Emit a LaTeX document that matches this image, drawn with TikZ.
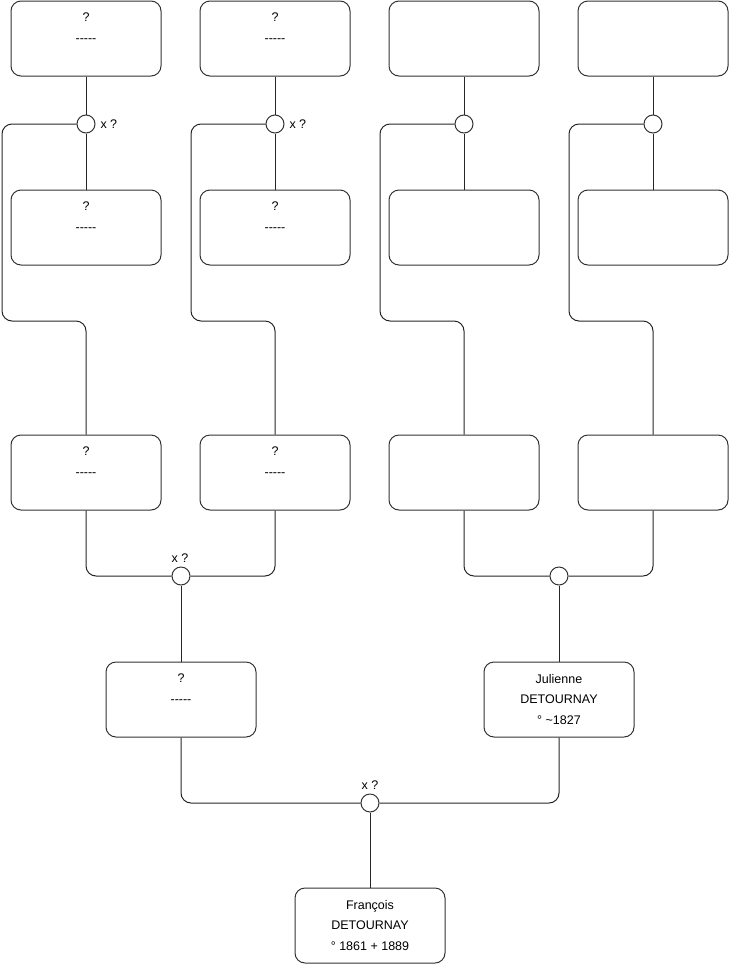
\documentclass[tikz,border=0pt]{standalone}
\usepackage{fontspec}
\newfontfamily\lsans{Liberation Sans}
\begin{document}
\begin{tikzpicture}[x=1pt,y=-1pt,
  line width=1pt,
  person/.style={draw=black!80, rounded corners=10pt, minimum width=150pt, minimum height=75pt,
    inner sep=0pt, align=center, font=\lsans\fontsize{12.5}{20.5}\selectfont},
  union/.style={draw=black!80, circle, minimum size=18pt, inner sep=0pt, fill=white},
  ulabel/.style={font=\lsans\fontsize{12.5}{14}\selectfont, inner sep=0pt},
  link/.style={draw=black!85, line width=1pt, rounded corners=10pt}
]
\useasboundingbox (0,0) rectangle (740,975);
% row 1
\node[person] (a1) at (86,38.5) {?\\-----\\[1pt]~};
\node[person] (a2) at (275,38.5) {?\\-----\\[1pt]~};
\node[person] (a3) at (464,38.5) {};
\node[person] (a4) at (653,38.5) {};
% row 2
\node[person] (b1) at (86,227.5) {?\\-----\\[1pt]~};
\node[person] (b2) at (275,227.5) {?\\-----\\[1pt]~};
\node[person] (b3) at (464,227.5) {};
\node[person] (b4) at (653,227.5) {};
% row 3
\node[person] (d1) at (86,472.5) {?\\-----\\[1pt]~};
\node[person] (d2) at (275,472.5) {?\\-----\\[1pt]~};
\node[person] (d3) at (464,472.5) {};
\node[person] (d4) at (653,472.5) {};
% row 4
\node[person] (p1) at (181,699.5) {?\\-----\\[1pt]~};
\node[person] (p2) at (559,699.5) {Julienne\\DETOURNAY\\° \textasciitilde1827};
% row 5
\node[person] (f) at (370,925.5) {François\\DETOURNAY\\° 1861 + 1889};
% unions
\node[union] (k1) at (86,124) {};
\node[union] (k2) at (275,124) {};
\node[union] (k3) at (464,124) {};
\node[union] (k4) at (653,124) {};
\node[union] (kl) at (181,576) {};
\node[union] (kr) at (559,576) {};
\node[union] (kf) at (370,803) {};
\node[ulabel, anchor=west] (t1) at (100,124) {x ?};
\node[ulabel, anchor=west] (t2) at (289,124) {x ?};
\node[ulabel] (tl) at (180,558) {x ?};
\node[ulabel] (tf) at (370,785) {x ?};
% turn points
\coordinate (l1) at (2,321);
\coordinate (l2) at (191,321);
\coordinate (l3) at (380,321);
\coordinate (l4) at (569,321);
% connectors
\foreach \i in {1,2,3,4}{
  \draw[link] (a\i.south) -- (k\i.north);
  \draw[link] (k\i.south) -- (b\i.north);
  \draw[link] (k\i.west) -| (l\i) -| (d\i.north);
}
\draw[link] (d1.south) |- (kl.west);
\draw[link] (d2.south) |- (kl.east);
\draw[link] (d3.south) |- (kr.west);
\draw[link] (d4.south) |- (kr.east);
\draw[link] (kl.south) -- (p1.north);
\draw[link] (kr.south) -- (p2.north);
\draw[link] (p1.south) |- (kf.west);
\draw[link] (p2.south) |- (kf.east);
\draw[link] (kf.south) -- (f.north);
\end{tikzpicture}
\end{document}
